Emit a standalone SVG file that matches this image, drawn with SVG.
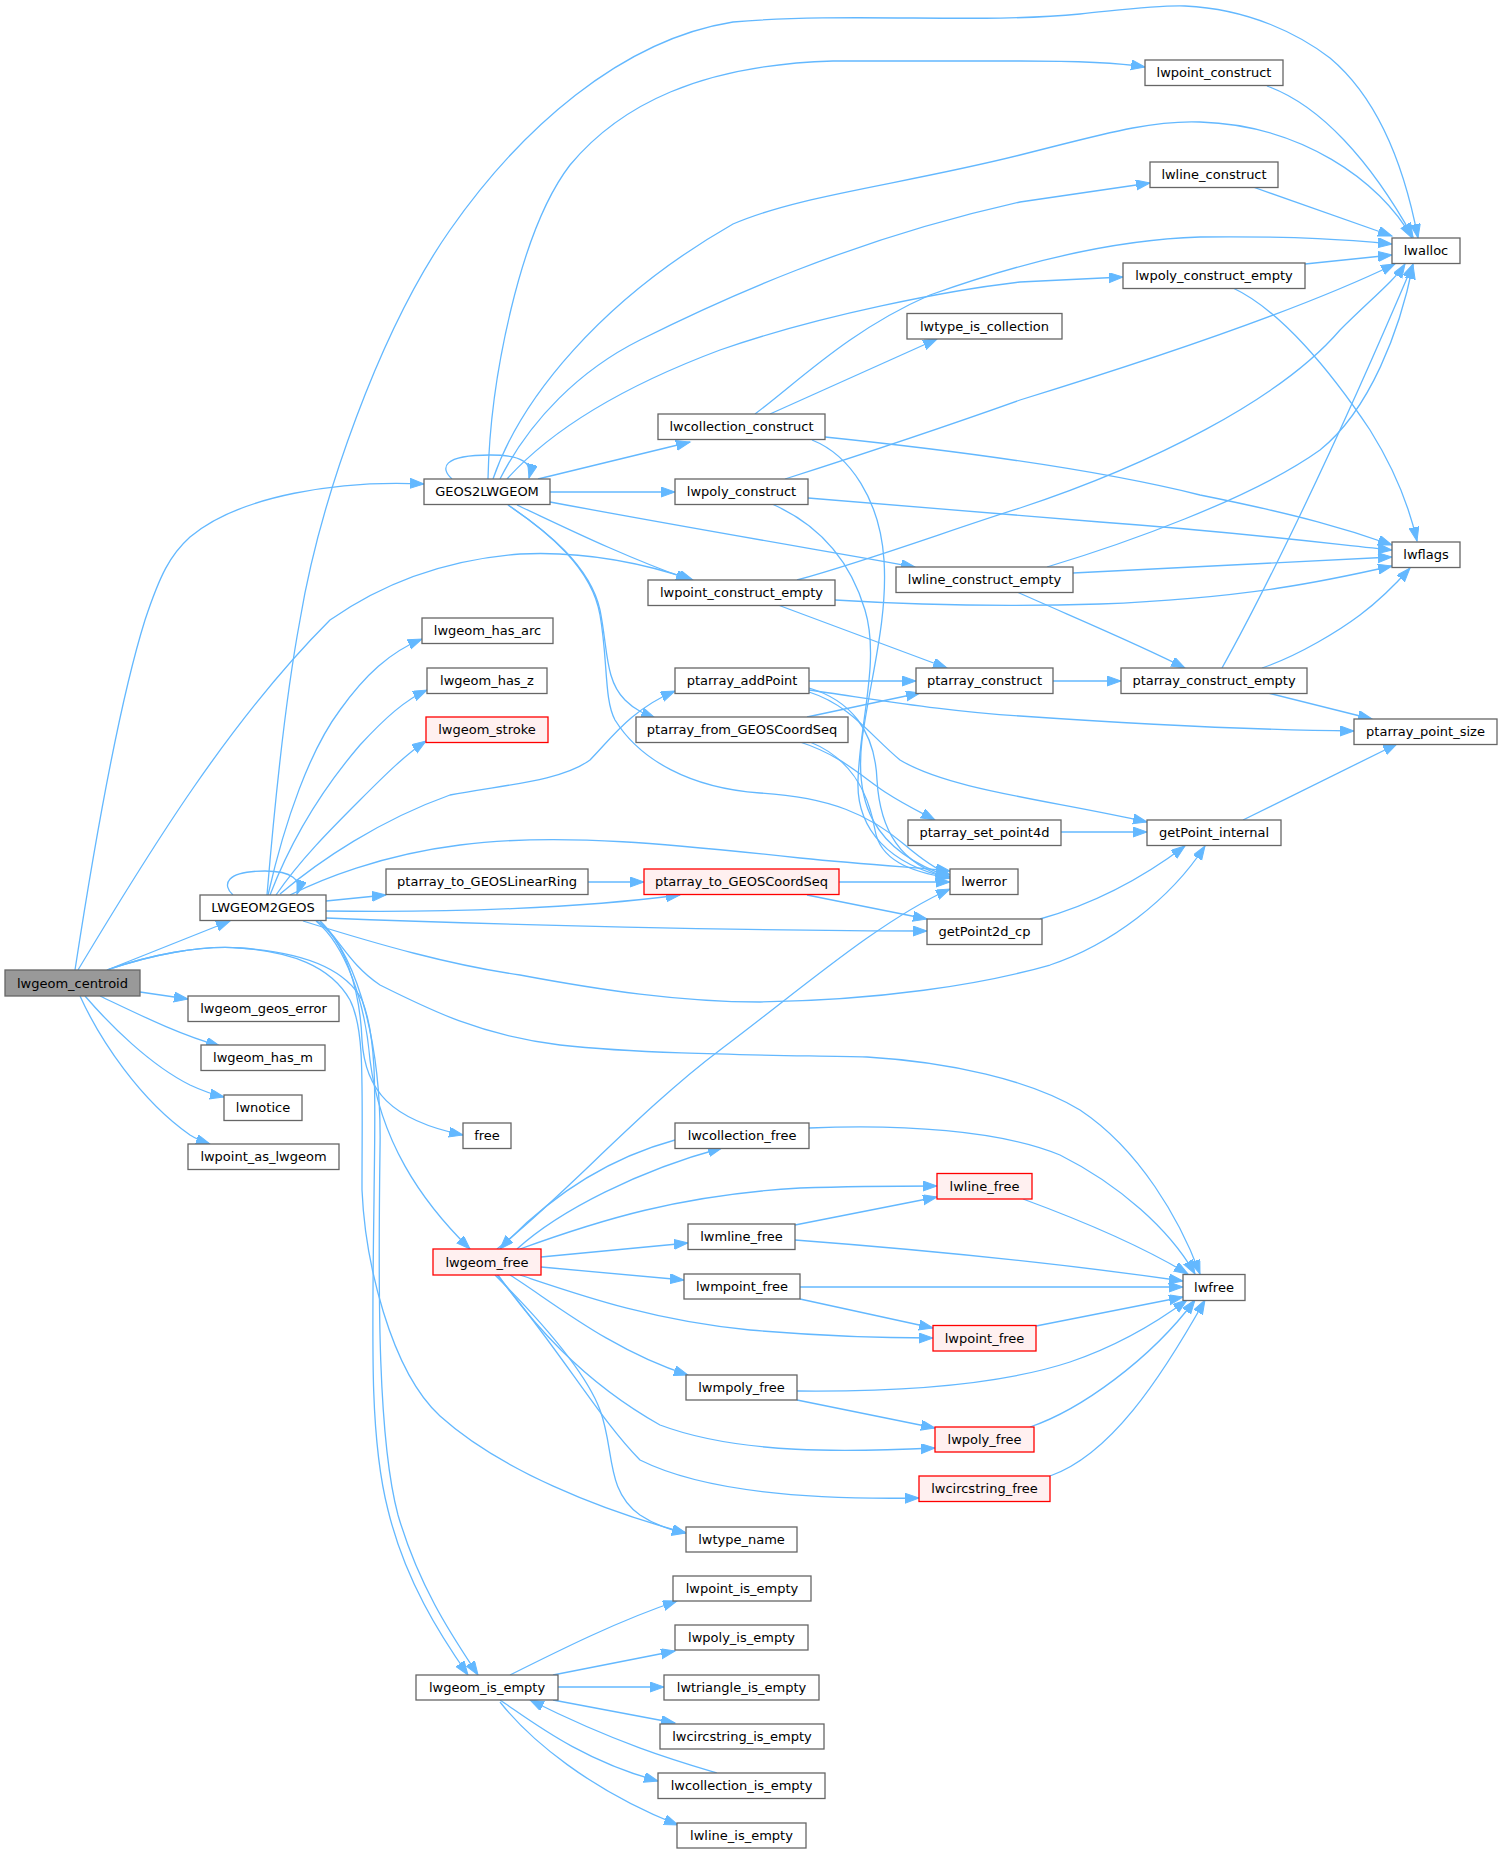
<svg xmlns="http://www.w3.org/2000/svg" width="1503" height="1854" viewBox="0 0 1503 1854">
<style>
.n rect{fill:#ffffff;stroke:#666666;stroke-width:1.3}
.n.r rect{fill:#fff0f0;stroke:#ff0000}
.n.g rect{fill:#999999;stroke:#666666}
.n text{font-family:"DejaVu Sans",sans-serif;font-size:13px;fill:#000000;text-anchor:middle}
.e path{fill:none;stroke:#63b8ff;stroke-width:1.3;marker-end:url(#a)}
</style>
<defs>
<marker id="a" markerUnits="userSpaceOnUse" markerWidth="16" markerHeight="12" refX="14" refY="5" orient="auto">
<path d="M0,0 L14,5 L0,10 z" fill="#63b8ff" stroke="#63b8ff" stroke-width="1"/>
</marker>
</defs>
<rect width="1503" height="1854" fill="#ffffff"/>
<g id="edges" class="e">
<!-- lwgeom_centroid -->
<path d="M75,970 C95,840 120,700 145,620 C160,575 170,555 190,537 C240,495 340,480 424,484"/>
<path d="M78,970 C150,850 230,720 330,620 C380,585 440,560 520,554 C580,551 640,562 693,580"/>
<path d="M107,970 L230,921"/>
<path d="M140,992 L188,999"/>
<path d="M100,996 C140,1015 180,1035 220,1046"/>
<path d="M85,996 C110,1025 150,1065 190,1085 C205,1092 215,1095 224,1097"/>
<path d="M80,996 C100,1040 140,1100 190,1135 C198,1140 204,1142 210,1144"/>
<path d="M107,970 C150,955 200,945 240,948 C290,952 330,965 350,1000 C365,1030 362,1080 362,1190 C365,1260 390,1370 440,1416 C500,1470 600,1510 686,1533"/>
<path d="M107,970 C150,955 200,945 240,948 C300,952 345,968 362,1000 C378,1040 375,1100 374,1200 C372,1350 370,1440 388,1510 C405,1580 440,1635 468,1675"/>
<!-- GEOS2LWGEOM -->
<path d="M452,479 C440,468 442,455 490,455 C522,455 533,463 529,478"/>
<path d="M488,479 C490,380 520,230 570,165 C620,105 700,65 833,61 L1020,61 C1080,61 1120,63 1145,67"/>
<path d="M493,479 C520,400 600,300 733,224 C800,195 900,185 1020,155 C1100,135 1150,120 1200,122 C1300,125 1380,180 1412,238"/>
<path d="M500,479 C530,420 580,370 640,340 C720,300 850,240 1020,202 L1150,183"/>
<path d="M507,479 C560,420 640,380 720,350 C820,315 950,290 1020,282 L1123,277"/>
<path d="M538,479 L690,442"/>
<path d="M550,492 L675,492"/>
<path d="M550,502 C700,530 820,550 915,567"/>
<path d="M517,505 C560,525 620,555 690,580"/>
<path d="M508,505 C545,530 590,565 600,610 C608,650 605,680 625,700 C635,710 645,714 655,718"/>
<path d="M508,505 C548,532 592,568 600,615 C608,660 604,700 615,720 C640,760 690,788 760,793 C830,797 870,815 905,845 C925,862 938,870 950,875"/>
<!-- LWGEOM2GEOS -->
<path d="M233,895 C222,885 225,871 265,871 C292,871 302,880 297,894"/>
<path d="M267,895 C275,800 285,700 300,620 C320,500 380,330 450,230 C520,130 620,40 733,22 C850,12 980,24 1080,14 C1130,9 1160,5 1185,6 C1250,9 1300,35 1330,58 C1380,100 1405,170 1418,238"/>
<path d="M268,895 C285,820 310,750 340,710 C365,675 390,652 422,639"/>
<path d="M270,895 C295,830 330,780 360,745 C385,718 405,700 427,690"/>
<path d="M276,895 C300,860 330,830 360,800 C385,775 405,755 426,741"/>
<path d="M280,894 C320,860 380,820 450,795 C500,785 560,782 590,760 C610,740 630,710 675,691"/>
<path d="M290,895 C320,880 380,855 460,845 C560,832 680,845 800,858 C880,866 930,868 950,871"/>
<path d="M326,901 L386,895"/>
<path d="M326,911 C450,913 580,908 680,895"/>
<path d="M326,918 C500,925 750,931 927,931"/>
<path d="M303,921 C380,945 450,965 520,975 C600,990 680,1002 760,1002 C880,1000 980,985 1050,965 C1110,945 1170,900 1205,846"/>
<path d="M320,921 C340,940 350,965 380,985 C430,1010 480,1035 560,1045 C650,1055 780,1055 867,1057 C950,1062 1030,1080 1080,1110 C1140,1150 1180,1220 1200,1274"/>
<path d="M317,921 C345,940 360,990 362,1040 C365,1090 390,1120 463,1135"/>
<path d="M316,921 C345,945 365,1000 370,1060 C380,1140 420,1200 470,1249"/>
<path d="M320,921 C360,960 382,1050 380,1150 C378,1300 378,1440 398,1515 C420,1590 455,1640 478,1675"/>
<!-- lwgeom_free -->
<path d="M497,1249 C560,1200 640,1110 720,1050 C800,990 880,920 950,889"/>
<path d="M675,1140 C620,1155 560,1185 500,1249"/>
<path d="M517,1249 C560,1210 640,1170 722,1148"/>
<path d="M520,1249 C600,1220 680,1195 800,1188 C860,1186 900,1186 937,1186"/>
<path d="M541,1257 L688,1243"/>
<path d="M541,1267 L684,1280"/>
<path d="M520,1275 C580,1295 650,1320 750,1330 C820,1336 880,1338 933,1338"/>
<path d="M510,1275 C550,1300 610,1350 688,1375"/>
<path d="M498,1275 C530,1320 580,1380 660,1425 C740,1455 850,1452 935,1448"/>
<path d="M497,1275 C560,1350 600,1420 640,1460 C700,1490 800,1500 919,1498"/>
<path d="M495,1275 C540,1320 585,1370 600,1410 C615,1450 605,1490 640,1515 C655,1525 670,1530 686,1533"/>
<!-- frees -->
<path d="M809,1128 C900,1124 1000,1130 1060,1155 C1120,1185 1170,1230 1195,1274"/>
<path d="M1023,1199 C1080,1220 1140,1245 1188,1274"/>
<path d="M795,1225 L937,1197"/>
<path d="M795,1240 C900,1248 1050,1262 1183,1281"/>
<path d="M800,1287 L1183,1287"/>
<path d="M800,1299 L933,1328"/>
<path d="M1036,1326 L1183,1297"/>
<path d="M797,1391 C900,1392 1000,1385 1070,1362 C1120,1345 1160,1320 1187,1300"/>
<path d="M797,1400 L935,1428"/>
<path d="M1030,1427 C1080,1410 1150,1360 1195,1300"/>
<path d="M1050,1476 C1110,1455 1160,1380 1205,1300"/>
<!-- lwgeom_is_empty -->
<path d="M510,1675 C560,1650 620,1620 677,1601"/>
<path d="M553,1675 L675,1651"/>
<path d="M558,1687 L664,1687"/>
<path d="M553,1700 L675,1723"/>
<path d="M717,1773 C680,1762 620,1745 530,1700"/>
<path d="M500,1700 C530,1720 580,1760 658,1781"/>
<path d="M500,1702 C530,1740 590,1790 678,1825"/>
<!-- ptarray -->
<path d="M809,681 L916,681"/>
<path d="M809,690 C880,700 950,712 1020,716 C1150,725 1250,730 1354,731"/>
<path d="M809,692 C850,705 870,735 900,760 C950,790 1050,800 1147,822"/>
<path d="M809,688 C850,700 875,730 877,780 C880,830 900,865 950,878"/>
<path d="M807,717 L920,693"/>
<path d="M800,742 C840,755 860,775 885,792 C905,805 920,812 935,820"/>
<path d="M810,742 C850,758 868,790 875,830 C880,860 910,872 950,878"/>
<path d="M1061,832 L1147,832"/>
<path d="M1053,681 L1121,681"/>
<path d="M1268,693 L1372,719"/>
<path d="M1222,668 C1260,600 1330,460 1413,264"/>
<path d="M1262,668 C1300,655 1340,630 1360,615 C1380,600 1395,585 1410,568"/>
<path d="M1017,592 C1080,620 1140,645 1185,668"/>
<path d="M1047,567 C1120,545 1250,500 1320,450 C1370,410 1400,330 1413,265"/>
<path d="M1073,573 L1392,557"/>
<path d="M797,580 C870,560 950,530 1020,508 C1150,465 1280,400 1340,330 C1370,300 1395,280 1405,264"/>
<path d="M835,600 C900,604 1000,607 1100,604 C1250,598 1330,580 1392,566"/>
<path d="M778,605 L947,668"/>
<path d="M785,479 C860,455 950,425 1020,400 C1150,360 1300,310 1395,264"/>
<path d="M808,498 C900,505 1000,514 1100,522 C1250,533 1340,545 1392,550"/>
<path d="M772,504 C820,525 850,560 865,610 C880,660 860,720 858,780 C856,830 890,865 950,878"/>
<path d="M812,440 C850,455 880,500 884,560 C888,620 870,680 862,740 C855,800 870,850 950,877"/>
<path d="M755,414 C800,380 850,330 930,295 C1000,270 1100,240 1200,237 C1300,236 1350,240 1392,244"/>
<path d="M770,414 L937,339"/>
<path d="M825,437 C950,450 1100,470 1200,495 C1300,515 1350,530 1392,545"/>
<path d="M1305,264 L1392,255"/>
<path d="M1233,288 C1280,310 1330,370 1370,430 C1395,470 1410,510 1417,541"/>
<path d="M1267,86 C1320,105 1370,160 1413,237"/>
<path d="M1253,187 L1392,236"/>
<path d="M588,882 L644,882"/>
<path d="M839,882 L950,882"/>
<path d="M807,895 L927,919"/>
<path d="M1040,919 C1090,905 1140,880 1185,846"/>
<path d="M1243,820 L1397,744"/>
</g>
<g id="lwgeom_centroid" class="n g"><rect x="5" y="970" width="135" height="26"/><text x="72.5" y="987.5">lwgeom_centroid</text></g>
<g id="GEOS2LWGEOM" class="n"><rect x="424" y="479" width="126" height="25.5"/><text x="487" y="496">GEOS2LWGEOM</text></g>
<g id="LWGEOM2GEOS" class="n"><rect x="200" y="895" width="126" height="25.5"/><text x="263" y="912">LWGEOM2GEOS</text></g>
<g id="lwgeom_geos_error" class="n"><rect x="188" y="996" width="151" height="25.5"/><text x="263.5" y="1013">lwgeom_geos_error</text></g>
<g id="lwgeom_has_m" class="n"><rect x="201" y="1045" width="124" height="25.5"/><text x="263" y="1062">lwgeom_has_m</text></g>
<g id="lwnotice" class="n"><rect x="224" y="1095" width="78" height="25.5"/><text x="263" y="1112">lwnotice</text></g>
<g id="lwpoint_as_lwgeom" class="n"><rect x="188" y="1144" width="151" height="25.5"/><text x="263.5" y="1161">lwpoint_as_lwgeom</text></g>
<g id="lwgeom_has_arc" class="n"><rect x="422" y="618" width="131" height="25.5"/><text x="487.5" y="635">lwgeom_has_arc</text></g>
<g id="lwgeom_has_z" class="n"><rect x="427" y="668" width="120" height="25.5"/><text x="487" y="685">lwgeom_has_z</text></g>
<g id="lwgeom_stroke" class="n r"><rect x="426" y="717" width="122" height="25.5"/><text x="487" y="734">lwgeom_stroke</text></g>
<g id="ptarray_to_GEOSLinearRing" class="n"><rect x="386" y="869" width="202" height="25.5"/><text x="487" y="886">ptarray_to_GEOSLinearRing</text></g>
<g id="free" class="n"><rect x="463" y="1123" width="48" height="25.5"/><text x="487" y="1140">free</text></g>
<g id="lwgeom_free" class="n r"><rect x="433" y="1249" width="108" height="26"/><text x="487" y="1266.5">lwgeom_free</text></g>
<g id="lwgeom_is_empty" class="n"><rect x="416" y="1675" width="142" height="25"/><text x="487" y="1692">lwgeom_is_empty</text></g>
<g id="lwtype_name" class="n"><rect x="686" y="1527" width="111" height="25"/><text x="741.5" y="1544">lwtype_name</text></g>
<g id="lwcollection_construct" class="n"><rect x="658" y="414" width="167" height="25.5"/><text x="741.5" y="431">lwcollection_construct</text></g>
<g id="lwpoly_construct" class="n"><rect x="675" y="479" width="133" height="25.5"/><text x="741.5" y="496">lwpoly_construct</text></g>
<g id="lwpoint_construct_empty" class="n"><rect x="648" y="580" width="187" height="25.5"/><text x="741.5" y="597">lwpoint_construct_empty</text></g>
<g id="lwline_construct_empty" class="n"><rect x="896" y="567" width="177" height="25.5"/><text x="984.5" y="584">lwline_construct_empty</text></g>
<g id="lwtype_is_collection" class="n"><rect x="907" y="313.5" width="155" height="25.5"/><text x="984.5" y="330.5">lwtype_is_collection</text></g>
<g id="lwpoint_construct" class="n"><rect x="1145" y="60" width="138" height="25.5"/><text x="1214" y="77">lwpoint_construct</text></g>
<g id="lwline_construct" class="n"><rect x="1150" y="162" width="128" height="25.5"/><text x="1214" y="179">lwline_construct</text></g>
<g id="lwalloc" class="n"><rect x="1392" y="238" width="68" height="25.5"/><text x="1426" y="255">lwalloc</text></g>
<g id="lwpoly_construct_empty" class="n"><rect x="1123" y="263" width="182" height="25.5"/><text x="1214" y="280">lwpoly_construct_empty</text></g>
<g id="lwflags" class="n"><rect x="1392" y="542" width="68" height="25.5"/><text x="1426" y="559">lwflags</text></g>
<g id="ptarray_addPoint" class="n"><rect x="675" y="668" width="134" height="25.5"/><text x="742" y="685">ptarray_addPoint</text></g>
<g id="ptarray_from_GEOSCoordSeq" class="n"><rect x="636" y="717" width="212" height="25.5"/><text x="742" y="734">ptarray_from_GEOSCoordSeq</text></g>
<g id="ptarray_construct" class="n"><rect x="916" y="668" width="137" height="25.5"/><text x="984.5" y="685">ptarray_construct</text></g>
<g id="ptarray_construct_empty" class="n"><rect x="1121" y="668" width="186" height="25.5"/><text x="1214" y="685">ptarray_construct_empty</text></g>
<g id="ptarray_point_size" class="n"><rect x="1354" y="719" width="143" height="25.5"/><text x="1425.5" y="736">ptarray_point_size</text></g>
<g id="ptarray_set_point4d" class="n"><rect x="908" y="820" width="153" height="25.5"/><text x="984.5" y="837">ptarray_set_point4d</text></g>
<g id="getPoint_internal" class="n"><rect x="1147" y="820" width="134" height="25.5"/><text x="1214" y="837">getPoint_internal</text></g>
<g id="ptarray_to_GEOSCoordSeq" class="n r"><rect x="644" y="869" width="195" height="25.5"/><text x="741.5" y="886">ptarray_to_GEOSCoordSeq</text></g>
<g id="lwerror" class="n"><rect x="950" y="869" width="68" height="25.5"/><text x="984" y="886">lwerror</text></g>
<g id="getPoint2d_cp" class="n"><rect x="927" y="919" width="115" height="25.5"/><text x="984.5" y="936">getPoint2d_cp</text></g>
<g id="lwcollection_free" class="n"><rect x="675" y="1123" width="134" height="25.5"/><text x="742" y="1140">lwcollection_free</text></g>
<g id="lwline_free" class="n r"><rect x="937" y="1173.5" width="95" height="25.5"/><text x="984.5" y="1190.5">lwline_free</text></g>
<g id="lwmline_free" class="n"><rect x="688" y="1224" width="107" height="25.5"/><text x="741.5" y="1241">lwmline_free</text></g>
<g id="lwmpoint_free" class="n"><rect x="684" y="1274" width="116" height="25"/><text x="742" y="1291">lwmpoint_free</text></g>
<g id="lwfree" class="n"><rect x="1183" y="1274.5" width="62" height="26"/><text x="1214" y="1292">lwfree</text></g>
<g id="lwpoint_free" class="n r"><rect x="933" y="1325.5" width="103" height="25.5"/><text x="984.5" y="1342.5">lwpoint_free</text></g>
<g id="lwmpoly_free" class="n"><rect x="686" y="1375" width="111" height="25"/><text x="741.5" y="1392">lwmpoly_free</text></g>
<g id="lwpoly_free" class="n r"><rect x="935" y="1427" width="99" height="25"/><text x="984.5" y="1444">lwpoly_free</text></g>
<g id="lwcircstring_free" class="n r"><rect x="919" y="1476" width="131" height="25.5"/><text x="984.5" y="1493">lwcircstring_free</text></g>
<g id="lwpoint_is_empty" class="n"><rect x="673" y="1576" width="138" height="25"/><text x="742" y="1593">lwpoint_is_empty</text></g>
<g id="lwpoly_is_empty" class="n"><rect x="675" y="1625" width="133" height="25"/><text x="741.5" y="1642">lwpoly_is_empty</text></g>
<g id="lwtriangle_is_empty" class="n"><rect x="664" y="1675" width="155" height="25"/><text x="741.5" y="1692">lwtriangle_is_empty</text></g>
<g id="lwcircstring_is_empty" class="n"><rect x="660" y="1724" width="164" height="25"/><text x="742" y="1741">lwcircstring_is_empty</text></g>
<g id="lwcollection_is_empty" class="n"><rect x="658" y="1773" width="167" height="25.5"/><text x="741.5" y="1790">lwcollection_is_empty</text></g>
<g id="lwline_is_empty" class="n"><rect x="677" y="1823" width="129" height="25"/><text x="741.5" y="1840">lwline_is_empty</text></g>
</svg>
